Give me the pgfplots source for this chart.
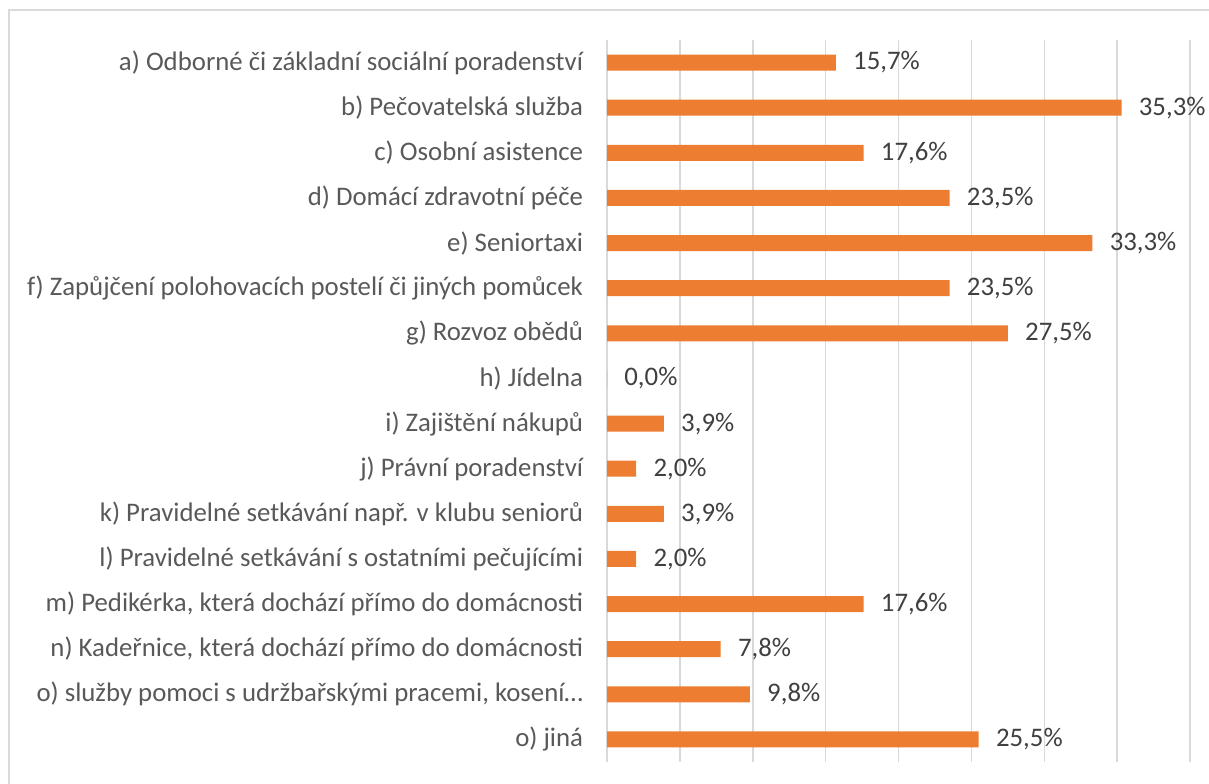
\documentclass[border=0pt]{standalone}
\usepackage{pgfplots}
\pgfplotsset{compat=1.18}
\usepackage{fontspec}
\setmainfont{Carlito}
\definecolor{barc}{HTML}{ED7D31}
\definecolor{gridc}{HTML}{D9D9D9}
\definecolor{labc}{HTML}{595959}
\definecolor{valc}{HTML}{404040}
\begin{document}
\begin{tikzpicture}
\useasboundingbox (0,0) rectangle (604.5pt,391.5pt);
\draw[gridc, line width=0.75pt] (4.5pt,-5pt) -- (4.5pt,386.5pt) -- (610pt,386.5pt);
\begin{axis}[
  at={(303.5pt,10.5pt)}, anchor=south west,
  scale only axis, width=291.5pt, height=361pt,
  xbar, bar width=8pt,
  xmin=0, xmax=40, ymin=-0.5, ymax=15.5,
  y dir=reverse,
  ytick={0,...,15},
  yticklabels={
    {a) Odborné či základní sociální poradenství},
    {b) Pečovatelská služba},
    {c) Osobní asistence},
    {d) Domácí zdravotní péče},
    {e) Seniortaxi},
    {f) Zapůjčení polohovacích postelí či jiných pomůcek},
    {g) Rozvoz obědů},
    {h) Jídelna},
    {i) Zajištění nákupů},
    {j) Právní poradenství},
    {k) Pravidelné setkávání např. v klubu seniorů},
    {l) Pravidelné setkávání s ostatními pečujícími},
    {m) Pedikérka, která dochází přímo do domácnosti},
    {n) Kadeřnice, která dochází přímo do domácnosti},
    {o) služby pomoci s udržbařskými pracemi, kosení…},
    {o) jiná}},
  xtick={0,5,...,40}, xticklabels={},
  xmajorgrids, ymajorgrids=false,
  major grid style={gridc, line width=0.75pt},
  axis line style={draw=none},
  tick style={draw=none},
  yticklabel style={font=\fontsize{13.4}{15}\selectfont, text=labc, inner sep=0pt, xshift=-7.5pt},
  point meta=x,
  nodes near coords={\pgfmathprintnumber[fixed,fixed zerofill,precision=1,use comma,assume math mode=true]{\pgfplotspointmeta}\%},
  nodes near coords style={font=\fontsize{13.4}{15}\selectfont, text=valc, anchor=west, inner sep=0pt, xshift=8.5pt},
  clip=false,
]
\addplot[fill=barc, draw=none] coordinates {
(15.7,0) (35.3,1) (17.6,2) (23.5,3) (33.3,4) (23.5,5) (27.5,6) (0.0,7)
(3.9,8) (2.0,9) (3.9,10) (2.0,11) (17.6,12) (7.8,13) (9.8,14) (25.5,15)};
\end{axis}
\end{tikzpicture}
\end{document}
